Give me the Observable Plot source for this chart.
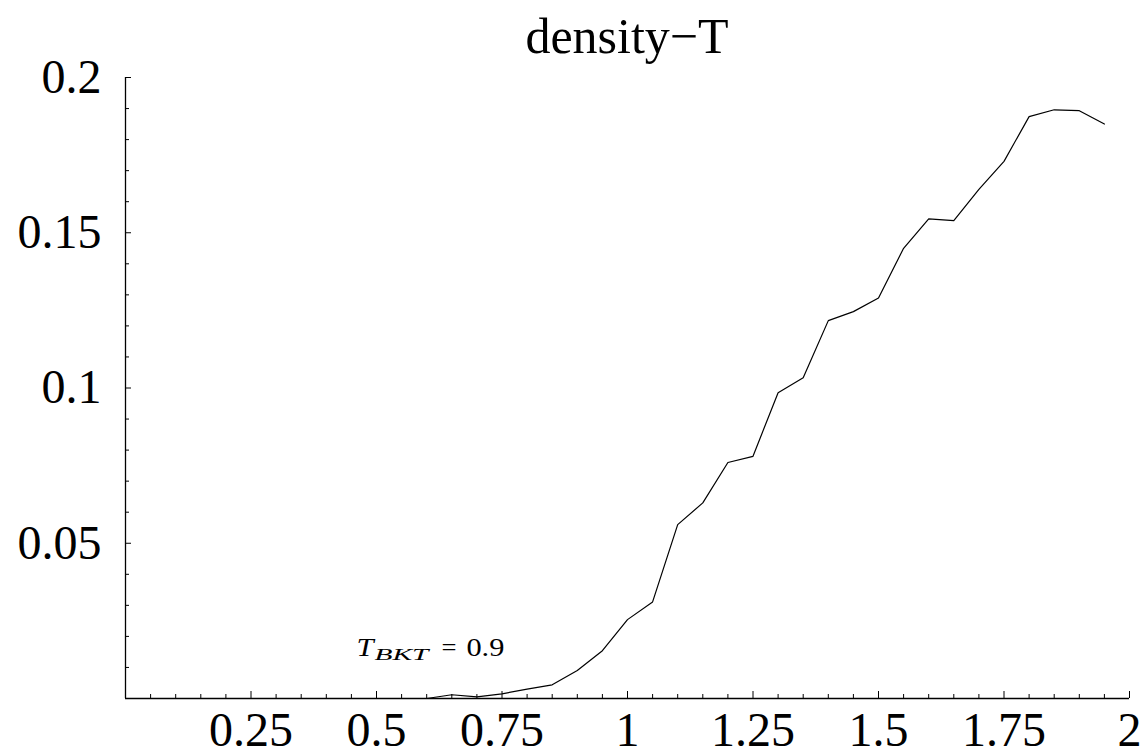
<!DOCTYPE html>
<html>
<head>
<meta charset="utf-8">
<script src="https://cdn.jsdelivr.net/npm/d3@7"></script>
<script src="https://cdn.jsdelivr.net/npm/@observablehq/plot@0.6"></script>
<style>
  body { margin: 0; background: #fff; }
  #title {
    height: 60px; box-sizing: border-box;
    padding: 0 17px 0 125px; text-align: center;
    font-family: "Liberation Serif", "Times New Roman", serif;
    font-size: 50px; line-height: 60px; color: #000;
  }
  #title span { position: relative; top: 6px; }
  svg { overflow: visible; }
</style>
</head>
<body>
<div id="title"><span id="titleText"></span></div>
<div id="chart"></div>
<script>
// ---- data ----
const titleText = "density−T";
const temperature = [0.6, 0.65, 0.7, 0.75, 0.8, 0.85, 0.9, 0.95, 1.0, 1.05, 1.1, 1.15, 1.2, 1.25,
                     1.3, 1.35, 1.4, 1.45, 1.5, 1.55, 1.6, 1.65, 1.7, 1.75, 1.8, 1.85, 1.9, 1.95];
const density = [0, 0.0012, 0.0005, 0.0015, 0.003, 0.0044, 0.009, 0.0154, 0.0254, 0.0311,
                 0.056, 0.063, 0.076, 0.078, 0.0985, 0.1033, 0.1217, 0.1246, 0.129, 0.145,
                 0.1545, 0.1539, 0.164, 0.173, 0.1874, 0.1896, 0.1893, 0.185];
const xTickLabels = [0.25, 0.5, 0.75, 1, 1.25, 1.5, 1.75, 2];
const yTickLabels = [0.05, 0.1, 0.15, 0.2];
const annotationX = [0.46];
const annotationY = [0.0162];
const annotationText = ["T_BKT = 0.9"];

document.getElementById("titleText").textContent = titleText;

// ---- derived ----
const rows = temperature.map((t, i) => ({T: t, density: density[i]}));
const xMinor = d3.range(1, 40).map(i => i * 0.05).filter(v => !xTickLabels.some(m => Math.abs(m - v) < 1e-9));
const yMinor = d3.range(1, 20).map(i => i * 0.01).filter(v => !yTickLabels.some(m => Math.abs(m - v) < 1e-9));
const annotations = annotationX.map((x, i) => ({x, y: annotationY[i], text: annotationText[i]}));

const chart = Plot.plot({
  width: 1146,
  height: 695,
  marginTop: 17,
  marginBottom: 57,
  marginLeft: 125,
  marginRight: 17,
  style: {fontFamily: "'Liberation Serif', 'Times New Roman', serif", background: "white", color: "black", overflow: "visible"},
  x: {domain: [0, 2]},
  y: {domain: [0, 0.2]},
  marks: [
    Plot.axisX(xMinor, {tickSize: -4, tickFormat: () => "", label: null, strokeWidth: 1}),
    Plot.axisX(xTickLabels, {tickSize: -7, tickPadding: 20, tickFormat: d => String(d), fontSize: 48, label: null, strokeWidth: 1}),
    Plot.axisY(yMinor, {tickSize: -4, tickFormat: () => "", label: null, strokeWidth: 1}),
    Plot.axisY(yTickLabels, {tickSize: -6, tickPadding: 30, tickFormat: d => String(d), fontSize: 48, label: null, strokeWidth: 1}),
    Plot.ruleX([0], {strokeWidth: 1.3}),
    Plot.ruleY([0], {strokeWidth: 1.3}),
    Plot.line(rows, {x: "T", y: "density", stroke: "black", strokeWidth: 1.2}),
    Plot.text(annotations, {x: "x", y: "y", text: "text", textAnchor: "start", fontSize: 25})
  ]
});
document.getElementById("chart").appendChild(chart);

// render the annotation with a subscript
d3.select(chart).selectAll("text").each(function () {
  const el = d3.select(this);
  if (el.text() === "T_BKT = 0.9") {
    el.text("");
    el.append("tspan").attr("font-style", "italic")
      .attr("textLength", 17).attr("lengthAdjust", "spacingAndGlyphs").text("T");
    el.append("tspan").attr("font-style", "italic").attr("font-size", 17).attr("dx", 1).attr("dy", 4)
      .attr("textLength", 54).attr("lengthAdjust", "spacingAndGlyphs").text("BKT");
    el.append("tspan").attr("dx", 13).attr("dy", -4)
      .attr("textLength", 15).attr("lengthAdjust", "spacingAndGlyphs").text("=");
    el.append("tspan").attr("dx", 10)
      .attr("textLength", 38).attr("lengthAdjust", "spacingAndGlyphs").text("0.9");
  }
});
</script>
</body>
</html>
